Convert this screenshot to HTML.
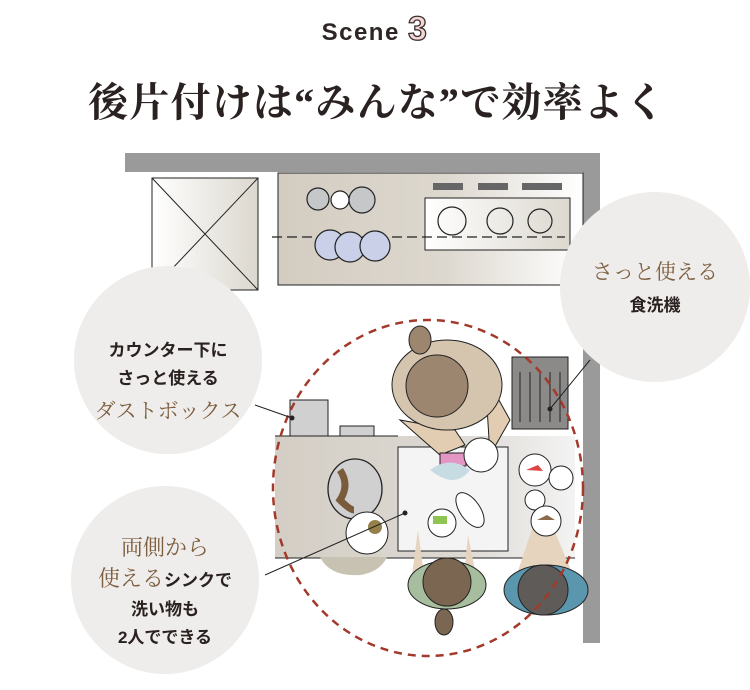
<!DOCTYPE html>
<html><head><meta charset="utf-8"><style>
html,body{margin:0;padding:0;background:#fff;}
svg{display:block;}
</style></head><body>
<svg width="750" height="690" viewBox="0 0 750 690" xmlns="http://www.w3.org/2000/svg">
<defs>
<linearGradient id="cg" x1="0" x2="1" y1="0" y2="0">
<stop offset="0" stop-color="#d3ccc1"/><stop offset="0.55" stop-color="#ddd8cf"/><stop offset="1" stop-color="#fff"/></linearGradient>
<linearGradient id="fg" x1="0" x2="1"><stop offset="0" stop-color="#fff"/><stop offset="1" stop-color="#dcd8cf"/></linearGradient>
<linearGradient id="ig" x1="0" x2="1"><stop offset="0" stop-color="#d4cec5"/><stop offset="0.6" stop-color="#dcd8d2"/><stop offset="1" stop-color="#f3f3f3"/></linearGradient>
</defs>
<text x="375" y="40" text-anchor="middle" font-family="'Liberation Sans',sans-serif" font-weight="bold" font-size="24" fill="#2e2624" letter-spacing="1.5">Scene <tspan fill="#f3d6d6" stroke="#3a2e2a" stroke-width="1.3" font-size="34">3</tspan></text>
<text x="88" y="116" textLength="577" font-family="'Liberation Serif','Noto Serif CJK SC',serif" font-weight="bold" font-size="40" fill="#2a2220">後片付けは“みんな”で効率よく</text>

<rect x="125" y="153" width="475" height="19" fill="#9a9a9a"/>
<rect x="583" y="153" width="17" height="490" fill="#9a9a9a"/>
<rect x="152" y="178" width="106" height="112" fill="url(#fg)" stroke="#222" stroke-width="1"/>
<path d="M152 178L258 290M258 178L152 290" stroke="#222" stroke-width="1"/>
<rect x="278" y="173" width="305" height="112" fill="url(#cg)" stroke="#222" stroke-width="1"/>
<rect x="425" y="198" width="145" height="52" fill="url(#fg)" stroke="#222" stroke-width="1"/>
<rect x="433" y="183" width="30" height="7" fill="#666"/><rect x="478" y="183" width="30" height="7" fill="#666"/><rect x="522" y="183" width="40" height="7" fill="#666"/>
<g stroke="#222" stroke-width="1.2" fill="none">
<circle cx="452" cy="221" r="14"/><circle cx="500" cy="221" r="13"/><circle cx="540" cy="221" r="12"/>
</g>
<line x1="272" y1="237" x2="565" y2="237" stroke="#222" stroke-width="1.3" stroke-dasharray="10,5"/>
<g stroke="#222" stroke-width="1.2">
<circle cx="318" cy="199" r="11" fill="#c6c7c9"/><circle cx="340" cy="200" r="9" fill="#fff"/><circle cx="362" cy="200" r="13" fill="#c6c7c9"/>
<circle cx="330" cy="245" r="15" fill="#c9d0e8"/><circle cx="350" cy="247" r="15" fill="#c9d0e8"/><circle cx="375" cy="246" r="15" fill="#c9d0e8"/>
</g>
<circle cx="655" cy="287" r="95" fill="#efedeb"/>
<circle cx="168" cy="360" r="94" fill="#efedeb"/>
<circle cx="165" cy="580" r="94" fill="#efedeb"/>
<rect x="275" y="436" width="300" height="122" fill="url(#ig)"/>
<line x1="275" y1="436" x2="398" y2="436" stroke="#222"/><line x1="275" y1="558" x2="575" y2="558" stroke="#222"/>
<rect x="398" y="447" width="110" height="104" fill="#f4f4f4" stroke="#222"/>
<rect x="290" y="400" width="38" height="36" fill="#d0d0d0" stroke="#222"/>
<rect x="340" y="426" width="34" height="10" fill="#d0d0d0" stroke="#222"/>
<rect x="512" y="357" width="56" height="72" fill="#8c8a88" stroke="#222"/>
<path d="M520 372v50M530 372v50M540 372v50M550 372v50M560 372v50" stroke="#222"/>
<ellipse cx="355" cy="489" rx="27" ry="30" fill="#d0d0d0" stroke="#222" stroke-width="1.3"/>
<path d="M340 470q10 15 0 30q10 10 14 10" stroke="#7a5c3c" stroke-width="7" fill="none"/>
<circle cx="367" cy="533" r="21" fill="#fff" stroke="#222"/>
<circle cx="375" cy="527" r="7" fill="#96804a"/>
<path d="M320 557q10 20 40 18q20 -3 27 -18z" fill="#c8c2b2"/>
<circle cx="535" cy="470" r="16" fill="#fff" stroke="#222"/>
<path d="M526 470l12 -5l5 6z" fill="#d44"/>
<circle cx="561" cy="478" r="12" fill="#fff" stroke="#222"/>
<circle cx="535" cy="500" r="10" fill="#fff" stroke="#222"/>
<path d="M400 420l40 35l25 -10l-10 -15z" fill="#e2ccb2" stroke="#222"/>
<path d="M485 375l25 45l-20 35z" fill="#e2ccb2" stroke="#222"/>
<ellipse cx="447" cy="385" rx="55" ry="45" fill="#d5c4ae" stroke="#222"/>
<circle cx="437" cy="386" r="31" fill="#9c8670" stroke="#222"/>
<ellipse cx="420" cy="340" rx="11" ry="14" fill="#9c8670" stroke="#222"/>
<rect x="440" y="453" width="26" height="13" fill="#e396c4" stroke="#222"/>
<circle cx="481" cy="455" r="17" fill="#fff" stroke="#222"/>
<path d="M430 470q20 -15 40 0q-15 20 -40 0z" fill="#c7dce2"/>
<circle cx="442" cy="523" r="14" fill="#fff" stroke="#222"/>
<rect x="433" y="516" width="14" height="8" fill="#8ec452"/>
<ellipse cx="470" cy="510" rx="10" ry="20" fill="#fff" stroke="#222" transform="rotate(-35 470 510)"/>
<path d="M418 530l-6 45h12zM468 535l8 40h-12z" fill="#e6d4bf"/>
<ellipse cx="447" cy="585" rx="39" ry="24" fill="#a6bd9e" stroke="#222"/>
<circle cx="447" cy="582" r="24" fill="#7b6652" stroke="#222"/>
<ellipse cx="444" cy="622" rx="9" ry="13" fill="#7b6652" stroke="#222"/>
<path d="M515 580l20 -60h15l25 60z" fill="#e6d4bf"/>
<circle cx="546" cy="521" r="15" fill="#fff" stroke="#222"/>
<path d="M537 520l10 -5l8 5z" fill="#8a6a48"/>
<ellipse cx="546" cy="590" rx="42" ry="25" fill="#5a97ae" stroke="#222"/>
<circle cx="543" cy="590" r="25" fill="#5f5b58" stroke="#222"/>
<ellipse cx="428" cy="488" rx="155" ry="168" fill="none" stroke="#a2392a" stroke-width="2.5" stroke-dasharray="8,6"/>
<g stroke="#222" stroke-width="1"><line x1="255" y1="405" x2="292" y2="418"/><line x1="265" y1="575" x2="405" y2="513"/><line x1="550" y1="409" x2="590" y2="360"/></g>
<circle cx="292" cy="418" r="2.5" fill="#222"/><circle cx="405" cy="513" r="2.5" fill="#222"/><circle cx="550" cy="409" r="2.5" fill="#222"/>
<g font-family="'Liberation Sans','Noto Sans CJK JP',sans-serif" fill="#2a2220" text-anchor="middle" font-weight="bold">
<text x="168" y="356" font-size="17">カウンター下に</text>
<text x="168" y="384" font-size="17">さっと使える</text>
<text x="168" y="418" font-size="21" fill="#7d5f3f" font-weight="normal" font-family="'Liberation Serif','Noto Serif CJK JP',serif">ダストボックス</text>
<text x="655" y="279" font-size="21" fill="#7d5f3f" font-weight="normal" font-family="'Liberation Serif','Noto Serif CJK JP',serif">さっと使える</text>
<text x="655" y="311" font-size="17">食洗機</text>
<text x="165" y="555" font-size="22" fill="#7d5f3f" font-weight="normal" font-family="'Liberation Serif','Noto Serif CJK JP',serif">両側から</text>
<text x="165" y="586"><tspan font-size="22" fill="#7d5f3f" font-weight="normal" font-family="'Liberation Serif','Noto Serif CJK JP',serif">使える</tspan><tspan font-size="17">シンクで</tspan></text>
<text x="165" y="615" font-size="17">洗い物も</text>
<text x="165" y="643" font-size="17">2人でできる</text>
</g>
</svg>
</body></html>
